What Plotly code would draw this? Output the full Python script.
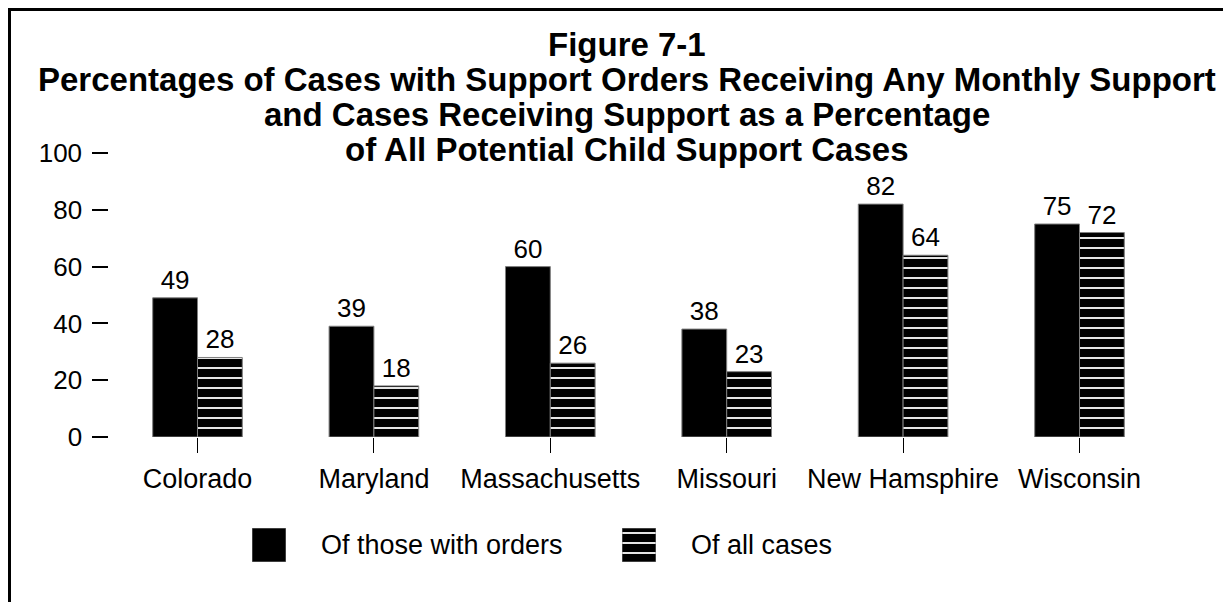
import plotly.graph_objects as go

W, H = 1223, 602

states = ["Colorado", "Maryland", "Massachusetts", "Missouri", "New Hamsphire", "Wisconsin"]
with_orders = [49, 39, 60, 38, 82, 75]
all_cases = [28, 18, 26, 23, 64, 72]
series_names = ["Of those with orders", "Of all cases"]
y_ticks = [0, 20, 40, 60, 80, 100]
title_lines = [
    "Figure 7-1",
    "Percentages of Cases with Support Orders Receiving Any Monthly Support",
    "and Cases Receiving Support as a Percentage",
    "of All Potential Child Support Cases",
]

FONT = "Arial, Liberation Sans, sans-serif"
hatch = dict(shape="-", fgcolor="white", bgcolor="black", size=10,
             solidity=0.18, fillmode="replace")
outline = dict(color="#7f7f7f", width=1)

def px_x(x):
    return x / W

def px_y(y):
    return 1 - y / H

fig = go.Figure()
fig.add_trace(go.Bar(
    x=states, y=with_orders, name=series_names[0],
    marker=dict(color="black", line=outline),
    text=[str(v) for v in with_orders], textposition="outside",
    textfont=dict(size=26, color="black", family=FONT),
    cliponaxis=False, showlegend=False,
))
fig.add_trace(go.Bar(
    x=states, y=all_cases, name=series_names[1],
    marker=dict(color="black", pattern=hatch, line=outline),
    text=[str(v) for v in all_cases], textposition="outside",
    textfont=dict(size=26, color="black", family=FONT),
    cliponaxis=False, showlegend=False,
))

# legend swatches drawn as single bars on small helper axes
fig.add_trace(go.Bar(x=[0], y=[1], width=[1], xaxis="x2", yaxis="y2",
                     marker=dict(color="black", line=outline), showlegend=False,
                     hoverinfo="skip"))
fig.add_trace(go.Bar(x=[0], y=[1], width=[1], xaxis="x3", yaxis="y3",
                     marker=dict(color="black", pattern=hatch, line=outline),
                     showlegend=False, hoverinfo="skip"))

hidden = dict(visible=False, range=[-0.5, 0.5], fixedrange=True)
hidden_y = dict(visible=False, range=[0, 1], fixedrange=True)
leg_y = [px_y(562), px_y(528)]

fig.update_layout(
    width=W, height=H,
    margin=dict(l=0, r=0, t=0, b=0),
    paper_bgcolor="white", plot_bgcolor="white",
    font=dict(family=FONT, color="black"),
    barmode="group", bargap=0.492, bargroupgap=0,
    xaxis=dict(
        domain=[px_x(109.3), px_x(1167.7)],
        showline=False, showgrid=False, zeroline=False,
        ticks="outside", ticklen=15, tickwidth=1, tickcolor="black",
        tickfont=dict(size=27, color="black"), ticklabelstandoff=3,
        automargin=False,
    ),
    yaxis=dict(
        domain=[px_y(437), px_y(153)], range=[0, 100],
        tickvals=y_ticks, showline=False, showgrid=False, zeroline=False,
        ticks="outside", ticklen=16, tickwidth=1.5, tickcolor="black",
        tickfont=dict(size=26, color="black"), ticklabelstandoff=5,
        automargin=False,
    ),
    xaxis2=dict(domain=[px_x(252), px_x(286)], anchor="y2", **hidden),
    yaxis2=dict(domain=leg_y, anchor="x2", **hidden_y),
    xaxis3=dict(domain=[px_x(622), px_x(656)], anchor="y3", **hidden),
    yaxis3=dict(domain=leg_y, anchor="x3", **hidden_y),
)

title_y = [44, 79, 114, 149]
for line, yc in zip(title_lines, title_y):
    fig.add_annotation(text=f"<b>{line}</b>", xref="paper", yref="paper",
                       x=px_x(627), y=px_y(yc), xanchor="center", yanchor="middle",
                       showarrow=False, font=dict(size=33, color="black", family=FONT))

for name, x0 in zip(series_names, [319, 689]):
    fig.add_annotation(text=name, xref="paper", yref="paper",
                       x=px_x(x0), y=px_y(545), xanchor="left", yanchor="middle",
                       showarrow=False, font=dict(size=27, color="black", family=FONT))

# frame (left and top edges visible)
fig.add_shape(type="rect", xref="paper", yref="paper",
              x0=px_x(9.5), x1=1.02, y0=-0.02, y1=px_y(9.5),
              line=dict(color="black", width=3), layer="above")

fig.write_html("out.html")
